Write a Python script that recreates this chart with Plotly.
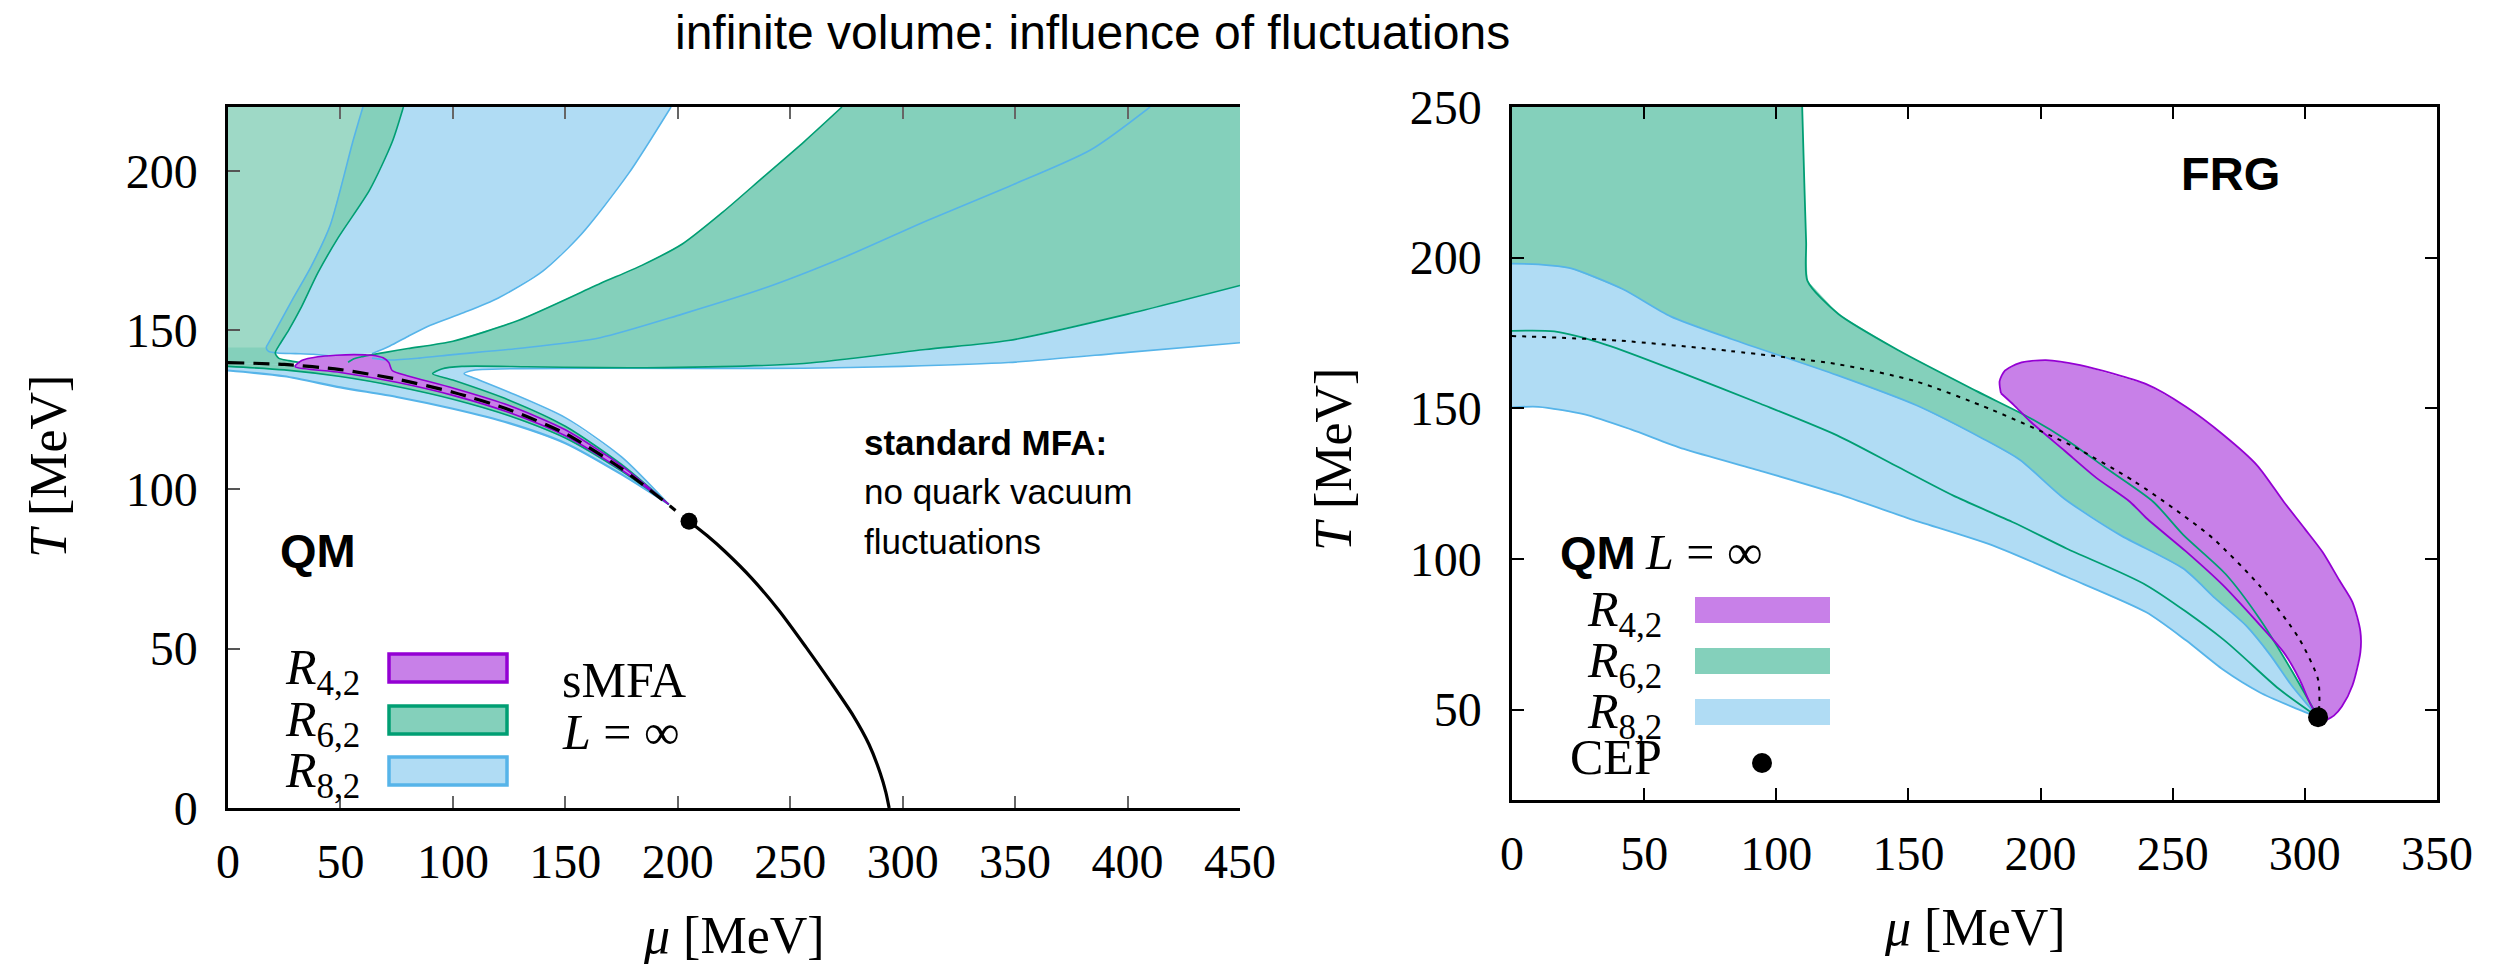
import plotly.graph_objects as go

W, H = 2507, 964

# ------------------------------------------------------------------
# Left panel: QM model, sMFA, L = infinity   (mu [MeV], T [MeV])
# ------------------------------------------------------------------
mu_cross = [0, 25, 50, 75, 100, 125, 150, 175, 199]
T_cross = [139.8, 139.2, 137.6, 134.6, 130.5, 125.0, 117.5, 106.5, 93.4]

mu_fo = [205, 213, 221, 233, 245, 257, 268, 278, 285, 290, 292.5, 294]
T_fo = [90, 85.5, 80.5, 72, 62, 50.5, 39.5, 29, 20, 11, 5, 0]
cep_qm_mu, cep_qm_T = [205], [90]

# thin sheets below the crossover line
mu_strip = [0, 25, 50, 75, 100, 125, 150, 175, 196]
T_r8_low = [137.3, 135.5, 132.0, 129.0, 125.3, 120.8, 114.5, 104.7, 95.3]
T_r6_low = [138.6, 137.5, 135.4, 132.3, 128.3, 123.1, 116.1, 105.7, 95.3]
mu_r4_low = [30, 50, 75, 100, 125, 150, 175, 196]
T_r4_low = [138.4, 136.7, 133.6, 129.5, 124.1, 116.8, 106.1, 95.3]

# R_{4,2}: blob above the crossover line
mu_r4_up = [30, 33, 40, 48, 56, 64, 69, 71.5, 73, 80, 100, 125, 150, 175, 196]
T_r4_up = [138.9, 140.5, 141.6, 142.1, 142.3, 142.1, 141.3, 139.8, 137.3, 135.6, 131.8, 126.3, 118.7, 107.4, 95.3]

# R_{6,2}: sheet above the crossover line and the wide band
mu_r6_up = [91, 100, 125, 150, 175, 196]
T_r6_up = [136.3, 134.3, 128.0, 119.8, 107.8, 95.3]
mu_r6_lo = [91, 95, 104, 133, 165, 194, 256, 310, 347, 400, 450]
T_r6_lo = [136.3, 137.8, 138.6, 138.5, 138.2, 138.2, 139.5, 143.9, 146.7, 155.0, 164.0]
mu_r6_top = [53.4, 56, 59.3, 70, 80, 100, 129, 165.5, 184, 202, 220, 238, 256, 273]
T_r6_top = [139.9, 141.0, 141.6, 143.0, 144.2, 146.5, 153.0, 164.6, 170.3, 177.0, 187.0, 198.0, 209.0, 220.0]
mu_r6_wl = [78, 73, 63, 49, 40, 32.5, 27, 23, 21, 22.5, 27, 32]
T_r6_wl = [220, 209, 194, 179, 168, 157, 150, 145.5, 142.8, 141.2, 140.4, 139.8]

# R_{8,2}
mu_r8_up = [105, 110, 125, 150, 175, 196]
T_r8_up = [136.3, 134.8, 130.5, 122.5, 110.2, 95.3]
mu_r8_lo = [105, 108, 113, 130, 165, 256, 300, 347, 400, 450]
T_r8_lo = [136.3, 137.2, 137.6, 137.9, 138.0, 138.0, 138.6, 139.8, 143.0, 146.0]
mu_r8_in = [64, 72, 85, 100, 130, 165.5, 202, 238, 274.5, 310.7, 347, 383.5, 410]
T_r8_in = [141.2, 140.6, 141.2, 142.3, 144.3, 147.6, 155.0, 163.0, 173.0, 184.3, 195.0, 206.5, 220.0]
mu_r8_wl = [60, 55.6, 45.5, 37, 29, 22, 18.5, 17, 18, 22, 30, 38, 44.5]
T_r8_wl = [220, 209.4, 183, 170, 160, 151, 146.5, 144.5, 143.3, 142.8, 142.6, 142.4, 141.9]
mu_r8_wr = [64, 72, 80, 90, 105, 120, 140, 157, 178, 197]
T_r8_wr = [142.6, 145.0, 148.0, 151.5, 155.5, 160.0, 168.5, 180.0, 199.0, 220.0]

# ------------------------------------------------------------------
# Right panel: FRG, QM model, L = infinity
# ------------------------------------------------------------------
mu_cross_r = [0, 40, 82.7, 123.5, 152.6, 181.6, 212, 235, 250, 265, 283, 298, 305, 305.5, 305]
T_cross_r = [174, 172.5, 169, 164.6, 159, 149.5, 137.5, 126, 117, 107, 91, 73.3, 60, 52, 47.5]
cep_frg_mu, cep_frg_T = [305], [47.5]

mu_r6_edge = [109.8, 110.6, 111.3, 111.8, 123.5, 146.7, 175.8, 196, 210.7, 225, 242.6, 254, 270, 283, 295, 305]
T_r6_edge = [250, 225, 205, 192.3, 181.3, 169, 155.7, 146.8, 139, 130, 119, 108, 95, 80, 63, 47.5]
mu_r6_in = [0, 16, 36, 65, 94, 123, 145, 167, 190, 210, 240, 269, 290, 305]
T_r6_in = [175.7, 175.5, 171, 161.5, 151.5, 141, 131, 121, 112, 103.4, 91.3, 73.4, 57, 47.5]

mu_r8_hi = [0, 10, 22, 42, 60, 83, 123, 153, 178, 192, 209, 230, 254, 266, 277.6, 287, 295, 305]
T_r8_hi = [198, 197.8, 196.5, 189.5, 180.5, 173, 161, 151, 140, 133, 120, 108, 96.8, 87, 78, 68, 58, 47.5]
mu_r8_lo_r = [0, 10, 27.5, 45, 65, 95, 123.5, 150, 181.6, 210, 240, 255, 269, 283, 295, 305]
T_r8_lo_r = [150.3, 150.5, 148, 143, 136.5, 129, 121.5, 113.5, 104.6, 94, 82.3, 73, 63.3, 55.7, 51, 47.5]

mu_r4_out = [185, 184.5, 186.5, 192, 202, 215, 240, 255, 269, 282, 292, 300, 306.7, 313, 318, 321, 321, 318, 314, 311, 308]
T_r4_out = [155, 159, 162.5, 165, 166, 164.3, 158, 150.5, 141.3, 131, 119, 110, 102.3, 93, 85.7, 76, 69, 58, 51, 48, 46.5]
mu_r4_in = [185, 190, 196, 209, 221, 233.8, 240, 255, 269, 281, 292, 298, 302, 305]
T_r4_in = [155, 151, 145.7, 136, 127, 119, 113.6, 102.5, 91.3, 80, 69, 60, 52, 47.5]

# axis ranges / ticks
L_XRANGE, L_YRANGE = [0, 450], [0, 220]
R_XRANGE, R_YRANGE = [0, 350], [20, 250]
L_XTICKS = [0, 50, 100, 150, 200, 250, 300, 350, 400, 450]
L_YTICKS = [0, 50, 100, 150, 200]
R_XTICKS = [0, 50, 100, 150, 200, 250, 300, 350]
R_YTICKS = [50, 100, 150, 200, 250]

# colours
FILL = {"r4": "#c880e8", "r6": "#84d0bb", "r6l": "#9ed9c6", "r8": "#b0dcf4"}
EDGE = {"r4": "#9400d3", "r6": "#009e73", "r8": "#56b4e9"}

SERIF = "Liberation Serif"
SANS = "Liberation Sans"
SMOOTH = 0.7

fig = go.Figure()


def area(xs, ys, color, xa="x", ya="y"):
    # filled region, straight polygon edges (the outline curves are drawn on top)
    fig.add_trace(go.Scatter(x=xs, y=ys, mode="lines", fill="toself", fillcolor=color,
                             line=dict(width=0), hoverinfo="skip", showlegend=False,
                             xaxis=xa, yaxis=ya))


def curve(xs, ys, color, width=1.6, dash=None, xa="x", ya="y"):
    fig.add_trace(go.Scatter(x=xs, y=ys, mode="lines",
                             line=dict(color=color, width=width, dash=dash,
                                       shape="spline", smoothing=SMOOTH),
                             hoverinfo="skip", showlegend=False, xaxis=xa, yaxis=ya))


xl_max, yl_max = L_XRANGE[1], L_YRANGE[1]

# ---- left panel fills (bottom to top) ----
area(mu_r8_wl + mu_r8_wr, T_r8_wl + T_r8_wr, FILL["r8"])
area(mu_r8_in + [xl_max] + mu_r8_lo[::-1] + mu_r8_up[1:] + mu_cross[7:2:-1],
     T_r8_in + [yl_max] + T_r8_lo[::-1] + T_r8_up[1:] + T_cross[7:2:-1], FILL["r8"])
area(mu_strip + mu_cross[::-1], T_r8_low + T_cross[::-1], FILL["r8"])
area([0] + mu_r6_wl + mu_cross[1::-1], [yl_max] + T_r6_wl + T_cross[1::-1], FILL["r6"])
area([0] + mu_r8_wl[:8] + [0], [yl_max] + T_r8_wl[:8] + [T_r8_wl[7]], FILL["r6l"])
area(mu_r6_top + [xl_max] + mu_r6_lo[::-1] + mu_r6_up[1:] + mu_cross[7:1:-1],
     T_r6_top + [yl_max] + T_r6_lo[::-1] + T_r6_up[1:] + T_cross[7:1:-1], FILL["r6"])
area(mu_strip + mu_cross[::-1], T_r6_low + T_cross[::-1], FILL["r6"])
area(mu_r4_up + mu_r4_low[::-1], T_r4_up + T_r4_low[::-1], FILL["r4"])

# ---- left panel boundary lines ----
curve(mu_r8_wl, T_r8_wl, EDGE["r8"])
curve(mu_r8_wr, T_r8_wr, EDGE["r8"])
curve(mu_r8_in, T_r8_in, EDGE["r8"])
curve(mu_r8_lo[::-1] + mu_r8_up[1:], T_r8_lo[::-1] + T_r8_up[1:], EDGE["r8"])
curve(mu_strip, T_r8_low, EDGE["r8"], width=2.2)
curve(mu_r6_wl, T_r6_wl, EDGE["r6"])
curve(mu_r6_top, T_r6_top, EDGE["r6"])
curve(mu_r6_lo[::-1] + mu_r6_up[1:], T_r6_lo[::-1] + T_r6_up[1:], EDGE["r6"])
curve(mu_strip, T_r6_low, EDGE["r6"])
curve(mu_r4_up + mu_r4_low[::-1] + mu_r4_up[:1], T_r4_up + T_r4_low[::-1] + T_r4_up[:1], EDGE["r4"])

curve(mu_cross, T_cross, "black", width=3.2, dash="16px,9px")
curve(mu_fo, T_fo, "black", width=3.2)
fig.add_trace(go.Scatter(x=cep_qm_mu, y=cep_qm_T, mode="markers",
                         marker=dict(color="black", size=17), hoverinfo="skip",
                         showlegend=False, xaxis="x", yaxis="y"))

# ---- right panel ----
area([0] + mu_r6_edge + mu_r6_in[::-1], [R_YRANGE[1]] + T_r6_edge + T_r6_in[::-1],
     FILL["r6"], "x2", "y2")
area(mu_r8_hi + mu_r8_lo_r[::-1], T_r8_hi + T_r8_lo_r[::-1], FILL["r8"], "x2", "y2")
area(mu_r4_out + mu_r4_in[::-1], T_r4_out + T_r4_in[::-1], FILL["r4"], "x2", "y2")

curve(mu_r8_hi, T_r8_hi, EDGE["r8"], 1.8, None, "x2", "y2")
curve(mu_r8_lo_r, T_r8_lo_r, EDGE["r8"], 1.8, None, "x2", "y2")
curve(mu_r6_edge, T_r6_edge, EDGE["r6"], 1.8, None, "x2", "y2")
curve(mu_r6_in, T_r6_in, EDGE["r6"], 1.8, None, "x2", "y2")
curve(mu_r4_out, T_r4_out, EDGE["r4"], 1.8, None, "x2", "y2")
curve(mu_r4_in, T_r4_in, EDGE["r4"], 1.8, None, "x2", "y2")
curve(mu_cross_r, T_cross_r, "black", 2.0, "4px,6px", "x2", "y2")
fig.add_trace(go.Scatter(x=cep_frg_mu, y=cep_frg_T, mode="markers",
                         marker=dict(color="black", size=20), hoverinfo="skip",
                         showlegend=False, xaxis="x2", yaxis="y2"))


def px(x):
    return x / W


def py(y):
    return 1 - y / H


tick_font = dict(family=SERIF, size=48, color="black")
common_axis = dict(showgrid=False, zeroline=False, ticks="inside", ticklen=12,
                   tickwidth=1.5, tickfont=tick_font, showline=True, linewidth=2.5,
                   automargin=False)

fig.update_layout(
    width=W, height=H, autosize=False,
    margin=dict(l=0, r=0, t=0, b=0, pad=0, autoexpand=False),
    paper_bgcolor="white", plot_bgcolor="white",
    font=dict(family=SERIF, color="black"),
    showlegend=False,
    xaxis=dict(domain=[px(228), px(1240)], range=L_XRANGE, tickvals=L_XTICKS,
               anchor="y", linecolor="black", tickcolor="#666", mirror="ticks",
               ticklabelstandoff=10, **common_axis),
    yaxis=dict(domain=[py(808), py(107)], range=L_YRANGE, tickvals=L_YTICKS,
               anchor="x", linecolor="black", tickcolor="#555", mirror=False,
               ticklabelstandoff=18, **common_axis),
    yaxis3=dict(overlaying="y", side="right", anchor="x", range=L_YRANGE, tickvals=L_YTICKS,
                showticklabels=False, showgrid=False, zeroline=False, ticks="inside",
                ticklen=12, tickwidth=1.5, tickcolor="#777", showline=True,
                linecolor="#888", linewidth=2.5, automargin=False),
    xaxis2=dict(domain=[px(1512), px(2437)], range=R_XRANGE, tickvals=R_XTICKS,
                anchor="y2", linecolor="black", tickcolor="black", mirror="ticks",
                ticklabelstandoff=10, **common_axis),
    yaxis2=dict(domain=[py(800), py(107)], range=R_YRANGE, tickvals=R_YTICKS,
                anchor="x2", linecolor="black", tickcolor="black", mirror="ticks",
                ticklabelstandoff=18, **common_axis),
)

ann = []


def text(x, y, s, size, family=SERIF, xanchor="center", angle=0, align="center"):
    ann.append(dict(xref="paper", yref="paper", x=px(x), y=py(y), text=s,
                    showarrow=False, xanchor=xanchor, yanchor="middle", textangle=angle,
                    align=align, font=dict(family=family, size=size, color="black")))


text(1092, 33, "infinite volume: influence of fluctuations", 48, SANS)

# axis titles
text(734, 935, "<i>μ</i> [MeV]", 52)
text(48, 467, "<i>T</i> [MeV]", 52, angle=-90)
text(1975, 927, "<i>μ</i> [MeV]", 52)
text(1333, 460, "<i>T</i> [MeV]", 52, angle=-90)

# left panel labels
text(278, 550, "<b>QM</b>", 47, SANS, "left")
text(862, 443, "<b>standard MFA:</b>", 35, SANS, "left")
text(862, 492, "no quark vacuum", 35, SANS, "left")
text(862, 541, "fluctuations", 35, SANS, "left")
text(560, 680, "sMFA", 50, SERIF, "left")
text(560, 732, "<i>L</i> = ∞", 50, SERIF, "left")

# right panel labels
text(2230, 173, "<b>FRG</b>", 47, SANS)
text(1558, 552, "<b>QM</b>", 47, SANS, "left")
text(1643, 552, "<i>L</i> = ∞", 50, SERIF, "left")

legend_rows = [("r4", "4,2"), ("r6", "6,2"), ("r8", "8,2")]
shapes = []

# legend of the left panel: framed swatches
for i, (key, sub) in enumerate(legend_rows):
    top = [654, 706, 757][i]
    text(362, top + 17, f"<i>R</i><sub>{sub}</sub>", 50, SERIF, "right")
    shapes.append(dict(type="rect", xref="paper", yref="paper",
                       x0=px(389), x1=px(507), y0=py(top + 28), y1=py(top),
                       fillcolor=FILL[key], line=dict(color=EDGE[key], width=3.5)))

# legend of the right panel: plain swatches plus the CEP marker
for i, (key, sub) in enumerate(legend_rows):
    top = [597, 648, 699][i]
    text(1664, top + 16, f"<i>R</i><sub>{sub}</sub>", 50, SERIF, "right")
    shapes.append(dict(type="rect", xref="paper", yref="paper",
                       x0=px(1695), x1=px(1830), y0=py(top + 26), y1=py(top),
                       fillcolor=FILL[key], line=dict(width=0)))
text(1664, 757, "CEP", 50, SERIF, "right")
shapes.append(dict(type="circle", xref="paper", yref="paper",
                   x0=px(1752), x1=px(1772), y0=py(773), y1=py(753),
                   fillcolor="black", line=dict(width=0)))

fig.update_layout(annotations=ann, shapes=shapes)
fig.write_html("out.html")
